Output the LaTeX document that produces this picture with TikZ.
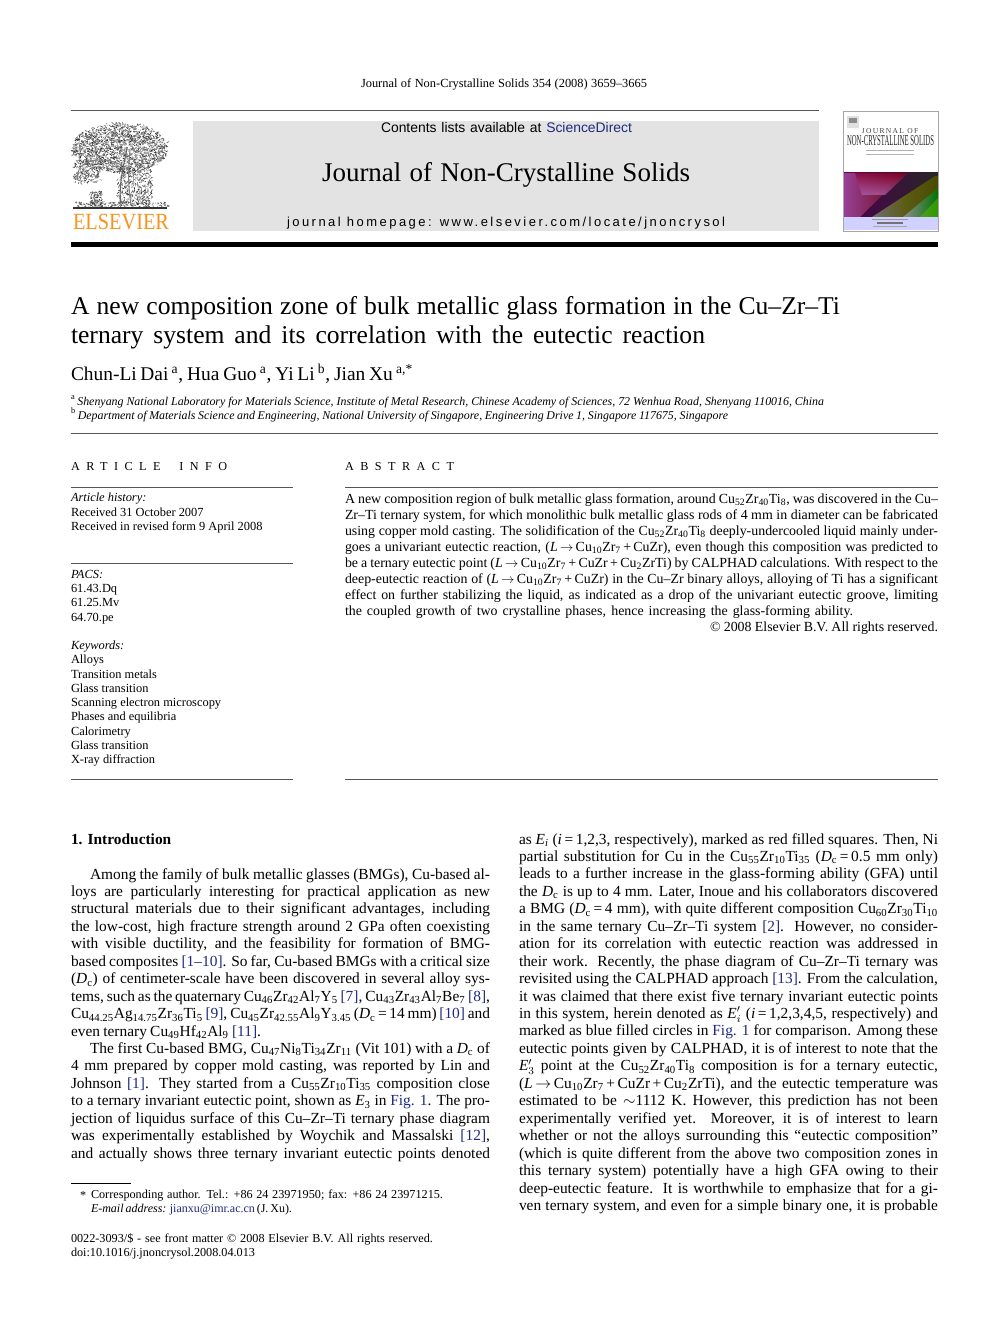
\documentclass[tikz,border=0pt]{standalone}
\usepackage{fontspec}
\usepackage{graphicx}
\setmainfont{Liberation Serif}
\setsansfont{Liberation Sans}
\definecolor{lnk}{HTML}{1F2A7A}
\definecolor{greybox}{HTML}{E3E3E3}
\definecolor{rulec}{HTML}{555555}
\definecolor{elsorange}{HTML}{F7941E}
\definecolor{sdblue}{HTML}{1F2A7A}
\newlength{\pxu}\setlength{\pxu}{0.75pt}
\newcounter{ln}
\newcommand{\dn}[1]{\textsubscript{#1}}
\newcommand{\lk}[1]{\textcolor{lnk}{#1}}
\newcommand{\Dc}{\textit{D}\dn{c}}
\newcommand{\ar}{\,$\rightarrow$\,}
\newcommand{\sz}[1]{\fontsize{#1\pxu}{#1\pxu}\selectfont}
\newcommand{\bodyf}{\sz{15.4}}
\newcommand{\absf}{\sz{13.9}}
\newcommand{\infof}{\sz{12.4}}
\tikzset{tl/.style={anchor=base west,inner sep=0pt,outer sep=0pt},
  thinrule/.style={rulec,line width=0.75pt},
  hair/.style={line width=0.35pt}}
% justified line: x, baseline, width, font, text
\newcommand{\jl}[5]{\stepcounter{ln}\node[tl,font=#4] (ln\theln) at (#1,#2) {\hbox to #3\pxu{\spaceskip=.25em plus 3em minus .2em\relax #5}};}
% natural line: x, baseline, font, text
\newcommand{\nl}[4]{\stepcounter{ln}\node[tl,font=#3] (ln\theln) at (#1,#2) {#4};}
\newcommand{\lcol}[2]{\jl{71}{879+17.45*#1}{419}{\bodyf}{#2}}
\newcommand{\lcoli}[2]{\jl{90}{879+17.45*#1}{400}{\bodyf}{#2}}
\newcommand{\rcol}[2]{\jl{519}{844+17.45*#1}{419}{\bodyf}{#2}}
\newcommand{\abst}[2]{\jl{345}{503+16*#1}{593}{\absf}{#2}}
\begin{document}
\begin{tikzpicture}[x=0.75pt,y=-0.75pt]
\useasboundingbox (0,0) rectangle (992,1323);
\fill[white] (0,0) rectangle (992,1323);
% running head
\jl{361}{88}{286}{\sz{12.4}}{Journal of Non-Crystalline Solids 354 (2008) 3659–3665}
\draw[thinrule] (71,111) -- (819,111);
\fill[greybox] (193,121) rectangle (819,231);
\fill[black] (71,242) rectangle (938,247);
% masthead
\jl{381}{133}{251}{\sz{13.9}\sffamily}{Contents lists available at \textcolor{sdblue}{ScienceDirect}}
\jl{322}{182}{368}{\sz{27}}{Journal of Non-Crystalline Solids}
\stepcounter{ln}\node[tl,font=\sz{13}\sffamily\addfontfeature{LetterSpace=19}] (ln\theln) at (287,226.5) {journal homepage: www.elsevier.com/locate/jnoncrysol};
% Elsevier tree
\pgfmathsetseed{7}
\begin{scope}[line width=0.45pt]
\foreach \i in {1,...,1900}{
  \pgfmathsetmacro{\ang}{rnd*360}\pgfmathsetmacro{\rr}{sqrt(rnd)}
  \pgfmathsetmacro{\px}{120+48*\rr*cos(\ang)}\pgfmathsetmacro{\py}{148+25*\rr*sin(\ang)}
  \pgfmathsetmacro{\dx}{(rnd-.5)*5}\pgfmathsetmacro{\dy}{(rnd-.5)*4}
  \pgfmathtruncatemacro{\gv}{30+rnd*60}
  \draw[black!\gv] (\px,\py) -- ++(\dx,\dy);
}
\foreach \i in {1,...,220}{
  \pgfmathsetmacro{\px}{74+rnd*26}\pgfmathsetmacro{\py}{160+rnd*23}
  \pgfmathsetmacro{\dx}{(rnd-.5)*5}\pgfmathsetmacro{\dy}{(rnd-.5)*4}
  \pgfmathtruncatemacro{\gv}{35+rnd*50}
  \draw[black!\gv] (\px,\py) -- ++(\dx,\dy);
}
\foreach \i in {1,...,380}{
  \pgfmathsetmacro{\px}{118+rnd*34}\pgfmathsetmacro{\py}{168+rnd*36}
  \pgfmathsetmacro{\dx}{(rnd-.5)*4}\pgfmathsetmacro{\dy}{(rnd-.5)*5}
  \pgfmathtruncatemacro{\gv}{30+rnd*60}
  \draw[black!\gv] (\px,\py) -- ++(\dx,\dy);
}
\foreach \i in {1,...,90}{
  \pgfmathsetmacro{\px}{90+rnd*12}\pgfmathsetmacro{\py}{192+rnd*14}
  \pgfmathsetmacro{\dx}{(rnd-.5)*4}\pgfmathsetmacro{\dy}{(rnd-.5)*4}
  \pgfmathtruncatemacro{\gv}{40+rnd*50}
  \draw[black!\gv] (\px,\py) -- ++(\dx,\dy);
}
\foreach \i in {1,...,200}{
  \pgfmathsetmacro{\px}{75+rnd*93}\pgfmathsetmacro{\py}{202+rnd*6}
  \pgfmathsetmacro{\dx}{(rnd-.5)*5}\pgfmathsetmacro{\dy}{(rnd-.5)*3}
  \pgfmathtruncatemacro{\gv}{40+rnd*50}
  \draw[black!\gv] (\px,\py) -- ++(\dx,\dy);
}
\end{scope}
\draw[black!60,line width=0.8pt] (121,205) .. controls (118,185) and (124,165) .. (127,148);
\draw[black!50,line width=0.8pt] (131,205) .. controls (128,185) and (128,170) .. (130,150);
\draw[black!50,line width=0.7pt] (122,165) .. controls (110,160) and (100,158) .. (88,162);
\draw[black!50,line width=0.7pt] (88,162) .. controls (80,165) and (76,172) .. (78,180);
\draw[black!80,line width=0.9pt] (73,208) -- (167,208);
\stepcounter{ln}\node[tl,font=\sz{23.5},text=elsorange] (ln\theln) at (73,229.5) {\resizebox{96\pxu}{!}{\scalebox{1}[1.14]{ELSEVIER}}};
% cover
\fill[white] (843,111) rectangle (938,231);
\fill[black!12] (847,116) rectangle (859,128);
\fill[black!45] (849,118) rectangle (857,123);
\stepcounter{ln}\node[font=\sz{7.5}\addfontfeature{LetterSpace=18},inner sep=0pt,text=black!75] (ln\theln) at (890,131) {JOURNAL OF};
\stepcounter{ln}\node[font=\sz{10},inner sep=0pt,text=black!85] (ln\theln) at (890.5,140.5) {\resizebox{87\pxu}{10\pxu}{NON-CRYSTALLINE SOLIDS}};
\fill[black!30] (866,150) rectangle (914,151.5);
\fill[black!30] (866,154) rectangle (914,155.5);
\shade[left color=violet!60!black,right color=black!85] (843,173) rectangle (938,217);
\shade[left color=violet!70!white,right color=red!45!black,opacity=.85] (843,173) -- (905,173) -- (860,217) -- (843,217) -- cycle;
\shade[top color=purple!70!black,bottom color=violet!60!white,opacity=.7] (855,173) -- (908,173) -- (885,195) -- (862,195) -- cycle;
\shade[left color=black!55,right color=olive!60!black,opacity=.95] (872,217) -- (935,176) -- (938,176) -- (938,190) -- (905,217) -- cycle;
\shade[left color=black!45,right color=green!45!black] (903,217) -- (938,188) -- (938,217) -- cycle;
\fill[lime!60!green!70!black,opacity=.6] (920,217) -- (938,198) -- (938,217) -- cycle;
\fill[blue!18!white] (843,217) rectangle (938,230);
\fill[black!40] (872,219) rectangle (908,220);
\fill[black!55] (877,222.5) rectangle (903,224);
\fill[black!35] (873,226.5) rectangle (907,227.5);
\draw[black!35,hair] (843,111) rectangle (938,231);
% title
\jl{71}{314}{769}{\sz{25.6}}{A new composition zone of bulk metallic glass formation in the Cu–Zr–Ti}
\jl{71}{343}{634}{\sz{25.6}}{ternary system and its correlation with the eutectic reaction}
\jl{71}{380}{342}{\sz{19.4}}{Chun-Li Dai\,\textsuperscript{a}, Hua Guo\,\textsuperscript{a}, Yi Li\,\textsuperscript{b}, Jian Xu\,\textsuperscript{a,*}}
\jl{71}{405}{753}{\sz{11.9}\itshape}{\textsuperscript{\upshape a}\,Shenyang National Laboratory for Materials Science, Institute of Metal Research, Chinese Academy of Sciences, 72 Wenhua Road, Shenyang 110016, China}
\jl{71}{419}{657}{\sz{11.9}\itshape}{\textsuperscript{\upshape b}\,Department of Materials Science and Engineering, National University of Singapore, Engineering Drive 1, Singapore 117675, Singapore}
\draw[thinrule] (71,433) -- (938,433);
% info heads
\stepcounter{ln}\node[tl,font=\sz{12.2}\addfontfeature{LetterSpace=53}] (ln\theln) at (71,470) {ARTICLE\hspace{7pt} INFO};
\stepcounter{ln}\node[tl,font=\sz{12.2}\addfontfeature{LetterSpace=53}] (ln\theln) at (345,470) {ABSTRACT};
\draw[thinrule] (71,487) -- (293,487);
\draw[thinrule] (345,487) -- (938,487);
\draw[thinrule] (71,563) -- (293,563);
\draw[thinrule] (71,779) -- (293,779);
\draw[thinrule] (345,779) -- (938,779);
% article info
\nl{71}{501}{\infof\itshape}{Article history:}
\nl{71}{516}{\infof}{Received 31 October 2007}
\nl{71}{530}{\infof}{Received in revised form 9 April 2008}
\nl{71}{578}{\infof\itshape}{PACS:}
\nl{71}{592}{\infof}{61.43.Dq}
\nl{71}{606}{\infof}{61.25.Mv}
\nl{71}{621}{\infof}{64.70.pe}
\nl{71}{649}{\infof\itshape}{Keywords:}
\nl{71}{663}{\infof}{Alloys}
\nl{71}{678}{\infof}{Transition metals}
\nl{71}{692}{\infof}{Glass transition}
\nl{71}{706}{\infof}{Scanning electron microscopy}
\nl{71}{720}{\infof}{Phases and equilibria}
\nl{71}{735}{\infof}{Calorimetry}
\nl{71}{749}{\infof}{Glass transition}
\nl{71}{763}{\infof}{X-ray diffraction}
% abstract
\abst{0}{A new composition region of bulk metallic glass formation, around Cu\dn{52}Zr\dn{40}Ti\dn{8}, was discovered in the Cu–}
\abst{1}{Zr–Ti ternary system, for which monolithic bulk metallic glass rods of 4 mm in diameter can be fabricated}
\abst{2}{using copper mold casting. The solidification of the Cu\dn{52}Zr\dn{40}Ti\dn{8} deeply-undercooled liquid mainly under-}
\abst{3}{goes a univariant eutectic reaction, (\textit{L}\ar Cu\dn{10}Zr\dn{7}\,+\,CuZr), even though this composition was predicted to}
\abst{4}{be a ternary eutectic point (\textit{L}\ar Cu\dn{10}Zr\dn{7}\,+\,CuZr\,+\,Cu\dn{2}ZrTi) by CALPHAD calculations. With respect to the}
\abst{5}{deep-eutectic reaction of (\textit{L}\ar Cu\dn{10}Zr\dn{7}\,+\,CuZr) in the Cu–Zr binary alloys, alloying of Ti has a significant}
\abst{6}{effect on further stabilizing the liquid, as indicated as a drop of the univariant eutectic groove, limiting}
\jl{345}{503+16*7}{508}{\absf}{the coupled growth of two crystalline phases, hence increasing the glass-forming ability.}
\jl{710}{631}{228}{\absf}{© 2008 Elsevier B.V. All rights reserved.}
% left column
\nl{71}{844}{\bodyf\bfseries}{1. Introduction}
\lcoli{0}{Among the family of bulk metallic glasses (BMGs), Cu-based al-}
\lcol{1}{loys are particularly interesting for practical application as new}
\lcol{2}{structural materials due to their significant advantages, including}
\lcol{3}{the low-cost, high fracture strength around 2 GPa often coexisting}
\lcol{4}{with visible ductility, and the feasibility for formation of BMG-}
\lcol{5}{based composites \lk{[1–10]}. So far, Cu-based BMGs with a critical size}
\lcol{6}{(\Dc) of centimeter-scale have been discovered in several alloy sys-}
\lcol{7}{tems, such as the quaternary Cu\dn{46}Zr\dn{42}Al\dn{7}Y\dn{5} \lk{[7]}, Cu\dn{43}Zr\dn{43}Al\dn{7}Be\dn{7} \lk{[8]},}
\lcol{8}{Cu\dn{44.25}Ag\dn{14.75}Zr\dn{36}Ti\dn{5} \lk{[9]}, Cu\dn{45}Zr\dn{42.55}Al\dn{9}Y\dn{3.45} (\Dc\,=\,14 mm) \lk{[10]} and}
\jl{71}{879+17.45*9}{190}{\bodyf}{even ternary Cu\dn{49}Hf\dn{42}Al\dn{9} \lk{[11]}.}
\lcoli{10}{The first Cu-based BMG, Cu\dn{47}Ni\dn{8}Ti\dn{34}Zr\dn{11} (Vit 101) with a \Dc{} of}
\lcol{11}{4 mm prepared by copper mold casting, was reported by Lin and}
\lcol{12}{Johnson \lk{[1]}. They started from a Cu\dn{55}Zr\dn{10}Ti\dn{35} composition close}
\lcol{13}{to a ternary invariant eutectic point, shown as \textit{E}\dn{3} in \lk{Fig. 1}. The pro-}
\lcol{14}{jection of liquidus surface of this Cu–Zr–Ti ternary phase diagram}
\lcol{15}{was experimentally established by Woychik and Massalski \lk{[12]},}
\lcol{16}{and actually shows three ternary invariant eutectic points denoted}
% right column
\rcol{0}{as \textit{E\dn{i}} (\textit{i}\,=\,1,2,3, respectively), marked as red filled squares. Then, Ni}
\rcol{1}{partial substitution for Cu in the Cu\dn{55}Zr\dn{10}Ti\dn{35} (\Dc\,=\,0.5 mm only)}
\rcol{2}{leads to a further increase in the glass-forming ability (GFA) until}
\rcol{3}{the \Dc{} is up to 4 mm. Later, Inoue and his collaborators discovered}
\rcol{4}{a BMG (\Dc\,=\,4 mm), with quite different composition Cu\dn{60}Zr\dn{30}Ti\dn{10}}
\rcol{5}{in the same ternary Cu–Zr–Ti system \lk{[2]}. However, no consider-}
\rcol{6}{ation for its correlation with eutectic reaction was addressed in}
\rcol{7}{their work. Recently, the phase diagram of Cu–Zr–Ti ternary was}
\rcol{8}{revisited using the CALPHAD approach \lk{[13]}. From the calculation,}
\rcol{9}{it was claimed that there exist five ternary invariant eutectic points}
\rcol{10}{in this system, herein denoted as \textit{E}$'_i$ (\textit{i}\,=\,1,2,3,4,5, respectively) and}
\rcol{11}{marked as blue filled circles in \lk{Fig. 1} for comparison. Among these}
\rcol{12}{eutectic points given by CALPHAD, it is of interest to note that the}
\rcol{13}{\textit{E}$'_3$ point at the Cu\dn{52}Zr\dn{40}Ti\dn{8} composition is for a ternary eutectic,}
\rcol{14}{(\textit{L}\ar Cu\dn{10}Zr\dn{7}\,+\,CuZr\,+\,Cu\dn{2}ZrTi), and the eutectic temperature was}
\rcol{15}{estimated to be $\sim$1112 K. However, this prediction has not been}
\rcol{16}{experimentally verified yet. Moreover, it is of interest to learn}
\rcol{17}{whether or not the alloys surrounding this “eutectic composition”}
\rcol{18}{(which is quite different from the above two composition zones in}
\rcol{19}{this ternary system) potentially have a high GFA owing to their}
\rcol{20}{deep-eutectic feature. It is worthwhile to emphasize that for a gi-}
\rcol{21}{ven ternary system, and even for a simple binary one, it is probable}
% footnote
\draw[black,line width=0.75pt] (71,1183) -- (131,1183);
\nl{80}{1199}{\sz{12.2}}{*}
\jl{91}{1198}{352}{\sz{12.2}}{Corresponding author. Tel.: +86 24 23971950; fax: +86 24 23971215.}
\jl{91}{1212.5}{201}{\sz{12}}{\textit{E-mail address:} \lk{jianxu@imr.ac.cn} (J. Xu).}
\jl{71}{1242}{362}{\sz{12.2}}{0022-3093/\$ - see front matter © 2008 Elsevier B.V. All rights reserved.}
\jl{71}{1256}{186}{\sz{12.2}}{doi:10.1016/j.jnoncrysol.2008.04.013}
\end{tikzpicture}
\end{document}
